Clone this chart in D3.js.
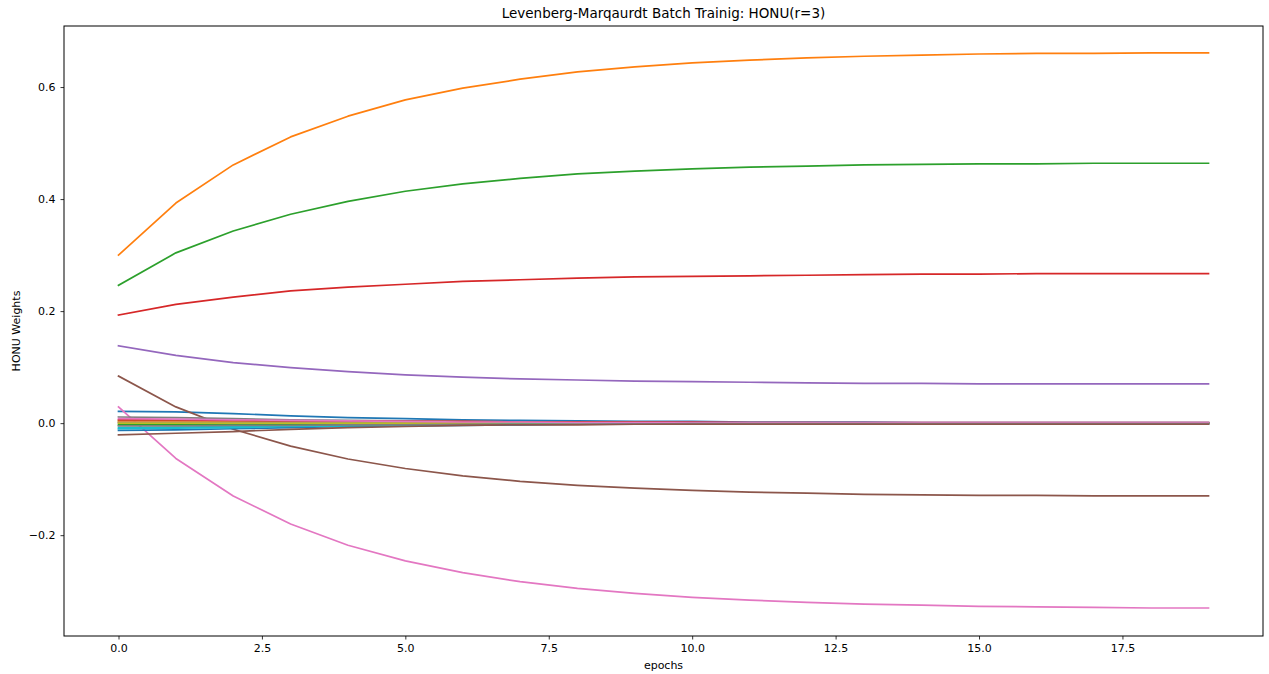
<!DOCTYPE html>
<html><head><meta charset="utf-8">
<script src="https://cdn.jsdelivr.net/npm/d3@7"></script>
<style>body{margin:0;background:#fff}svg{display:block}text{font-family:"DejaVu Sans",sans-serif;fill:#000}</style>
</head><body><svg id="c" width="1269" height="674"></svg>
<script>
const epochs = d3.range(0, 20);
const title = "Levenberg-Marqaurdt Batch Trainig: HONU(r=3)";
const xTicks = [0, 2.5, 5, 7.5, 10, 12.5, 15, 17.5];
const yTicks = [-0.2, 0, 0.2, 0.4, 0.6];
const colors = ["#1f77b4","#ff7f0e","#2ca02c","#d62728","#9467bd","#8c564b","#e377c2","#7f7f7f","#bcbd22","#17becf"];

const w0  = [0.021,0.020,0.017,0.013,0.010,0.008,0.006,0.005,0.004,0.003,0.003,0.002,0.002,0.002,0.001,0.001,0.001,0.001,0.001,0.001];
const w1  = [0.300,0.393,0.461,0.511,0.548,0.577,0.598,0.614,0.627,0.636,0.643,0.648,0.652,0.655,0.657,0.659,0.660,0.660,0.661,0.661];
const w2  = [0.246,0.304,0.343,0.373,0.396,0.414,0.427,0.437,0.445,0.450,0.454,0.457,0.459,0.461,0.462,0.463,0.463,0.464,0.464,0.464];
const w3  = [0.193,0.212,0.225,0.236,0.243,0.248,0.253,0.256,0.259,0.261,0.262,0.263,0.264,0.265,0.266,0.266,0.267,0.267,0.267,0.267];
const w4  = [0.138,0.121,0.108,0.099,0.092,0.086,0.082,0.079,0.077,0.075,0.074,0.073,0.072,0.071,0.071,0.070,0.070,0.070,0.070,0.070];
const w5  = [0.084,0.029,-0.011,-0.041,-0.064,-0.081,-0.094,-0.104,-0.111,-0.116,-0.120,-0.123,-0.125,-0.127,-0.128,-0.129,-0.129,-0.130,-0.130,-0.130];
const w6  = [0.029,-0.063,-0.130,-0.180,-0.218,-0.246,-0.267,-0.283,-0.295,-0.304,-0.311,-0.316,-0.320,-0.323,-0.325,-0.327,-0.328,-0.329,-0.330,-0.330];
const w7  = [0.011,0.010,0.008,0.006,0.005,0.004,0.003,0.002,0.002,0.001,0.001,0.001,0.001,0.000,0.000,0.000,0.000,0.000,0.000,0.000];
const w8  = [0.004,0.004,0.003,0.003,0.002,0.002,0.001,0.001,0.001,0.001,0.000,0.000,0.000,0.000,0.000,0.000,0.000,0.000,0.000,0.000];
const w9  = [-0.008,-0.007,-0.006,-0.005,-0.004,-0.003,-0.002,-0.002,-0.001,-0.001,-0.001,-0.001,0.000,0.000,0.000,0.000,0.000,0.000,0.000,0.000];
const w10 = [-0.013,-0.012,-0.010,-0.008,-0.006,-0.005,-0.004,-0.003,-0.002,-0.002,-0.002,-0.001,-0.001,-0.001,-0.001,-0.001,-0.001,-0.001,-0.001,-0.001];
const w11 = [0.002,0.002,0.002,0.001,0.001,0.001,0.001,0.000,0.000,0.000,0.000,0.000,0.000,0.000,0.000,0.000,0.000,0.000,0.000,0.000];
const w12 = [-0.003,-0.003,-0.002,-0.002,-0.002,-0.001,-0.001,-0.001,-0.001,0.000,0.000,0.000,0.000,0.000,0.000,0.000,0.000,0.000,0.000,0.000];
const w13 = [0.006,0.006,0.005,0.004,0.004,0.003,0.003,0.002,0.002,0.002,0.002,0.001,0.001,0.001,0.001,0.001,0.001,0.001,0.001,0.001];
const w14 = [0.001,0.001,0.001,0.001,0.001,0.000,0.000,0.000,0.000,0.000,0.000,0.000,0.000,0.000,0.000,0.000,0.000,0.000,0.000,0.000];
const w15 = [-0.021,-0.018,-0.015,-0.011,-0.008,-0.006,-0.004,-0.003,-0.003,-0.002,-0.002,-0.002,-0.002,-0.002,-0.002,-0.002,-0.002,-0.002,-0.002,-0.002];
const w16 = [0.008,0.007,0.006,0.005,0.004,0.003,0.002,0.002,0.001,0.001,0.001,0.001,0.001,0.001,0.001,0.001,0.001,0.001,0.001,0.001];
const w17 = [-0.005,-0.005,-0.004,-0.004,-0.003,-0.003,-0.002,-0.002,-0.002,-0.002,-0.001,-0.001,-0.001,-0.001,-0.001,-0.001,-0.001,-0.001,-0.001,-0.001];
const w18 = [0.000,0.000,0.000,0.000,0.000,0.000,0.000,0.000,0.000,0.000,0.000,0.000,0.000,0.000,0.000,0.000,0.000,0.000,0.000,0.000];
const w19 = [-0.010,-0.009,-0.008,-0.006,-0.005,-0.004,-0.003,-0.002,-0.002,-0.001,-0.001,-0.001,-0.001,-0.001,-0.001,-0.001,-0.001,-0.001,-0.001,-0.001];
const series = [w0,w1,w2,w3,w4,w5,w6,w7,w8,w9,w10,w11,w12,w13,w14,w18,w19,w16,w17,w15];
const seriesColor = [0,1,2,3,4,5,6,7,8,9,0,1,2,3,4,8,9,6,7,5];

const L = 64, R = 1263, T = 26, B = 636;
const svg = d3.select("#c");
const x = d3.scaleLinear().domain([-0.95, 19.95]).range([L, R]);
const y = d3.scaleLinear().domain([-0.380, 0.709]).range([B, T]);

const line = d3.line().x((d, i) => x(epochs[i])).y(d => y(d));
svg.append("g").selectAll("path").data(series).join("path")
  .attr("d", d => line(d)).attr("fill", "none")
  .attr("stroke", (d, i) => colors[seriesColor[i]]).attr("stroke-width", 1.7)
  .attr("stroke-linejoin", "round").attr("stroke-linecap", "square");

const fmt = v => (v < 0 ? "\u2212" : "") + Math.abs(v).toFixed(1);
const xa = svg.append("g").attr("transform", `translate(0,${B})`)
  .call(d3.axisBottom(x).tickValues(xTicks).tickFormat(fmt).tickSize(3.5).tickPadding(5));
const ya = svg.append("g").attr("transform", `translate(${L},0)`)
  .call(d3.axisLeft(y).tickValues(yTicks).tickFormat(fmt).tickSize(3.5).tickPadding(5));
[xa, ya].forEach(a => {
  a.select(".domain").remove();
  a.selectAll("text").attr("font-size", 11).attr("font-family", "DejaVu Sans").attr("fill", "#000");
  a.selectAll("line").attr("stroke", "#000").attr("stroke-width", 0.8);
});
svg.append("rect").attr("x", L).attr("y", T).attr("width", R - L).attr("height", B - T)
  .attr("fill", "none").attr("stroke", "#000").attr("stroke-width", 1);

svg.append("text").attr("x", (L + R) / 2).attr("y", 18).attr("text-anchor", "middle")
  .attr("font-size", 13.5).text(title);
svg.append("text").attr("x", (L + R) / 2).attr("y", 669).attr("text-anchor", "middle")
  .attr("font-size", 11).text("epochs");
svg.append("text").attr("transform", `translate(20,${(T + B) / 2}) rotate(-90)`)
  .attr("text-anchor", "middle").attr("font-size", 11).text("HONU Weights");
</script></body></html>
